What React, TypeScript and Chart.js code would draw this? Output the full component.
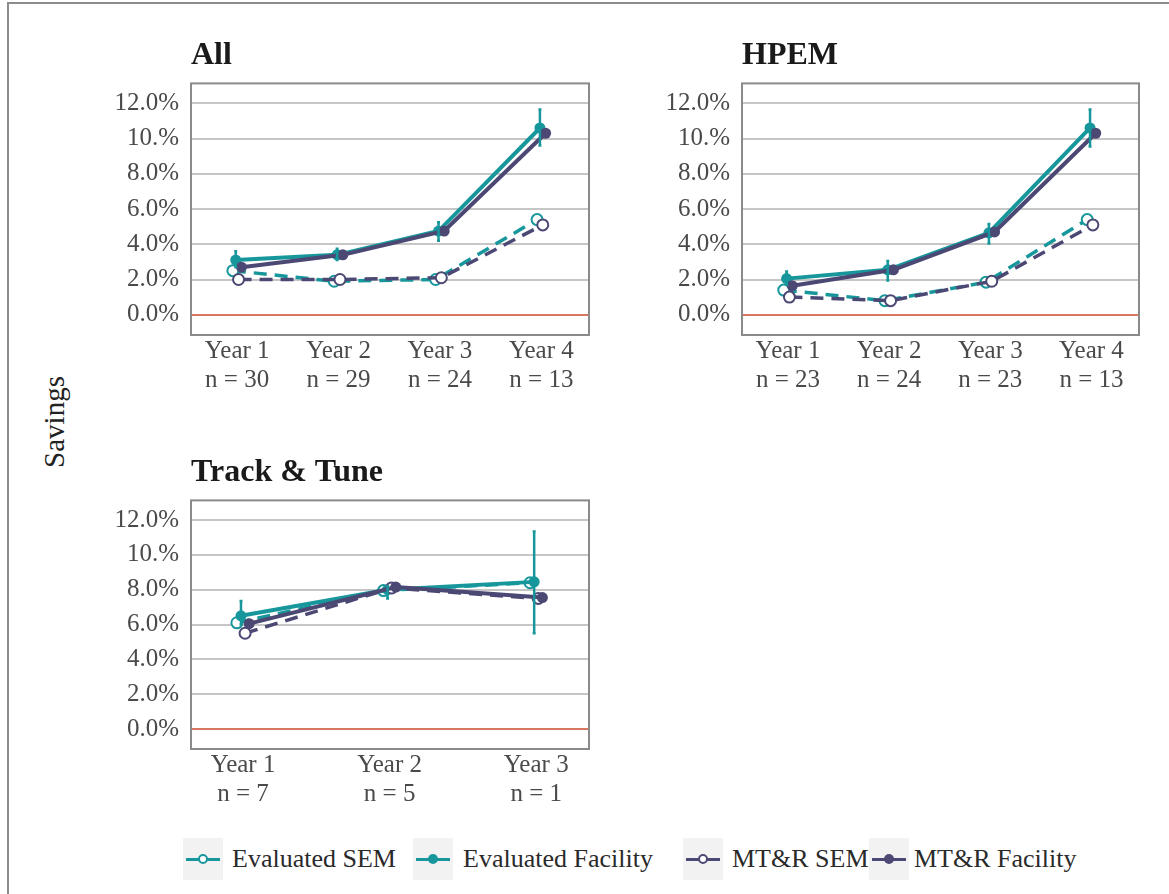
import React, { useEffect, useRef } from "react";
import { Chart, registerables } from "chart.js";

Chart.register(...registerables);

// ---------- data ----------
const yTickValues = [0, 2, 4, 6, 8, 10, 12];
const yTickLabels = ["0.0%", "2.0%", "4.0%", "6.0%", "8.0%", "10.%", "12.0%"];

const yearsFour = ["Year 1", "Year 2", "Year 3", "Year 4"];
const yearsThree = ["Year 1", "Year 2", "Year 3"];

// All
const allN = ["n = 30", "n = 29", "n = 24", "n = 13"];
const allEvalSEM = [2.5, 1.9, 2.0, 5.4];
const allEvalFacility = [3.1, 3.4, 4.75, 10.6];
const allMtrSEM = [2.0, 2.0, 2.1, 5.1];
const allMtrFacility = [2.7, 3.4, 4.75, 10.3];
const allEvalFacilityLow = [2.7, 3.1, 4.2, 9.6];
const allEvalFacilityHigh = [3.6, 3.75, 5.25, 11.65];

// HPEM
const hpemN = ["n = 23", "n = 24", "n = 23", "n = 13"];
const hpemEvalSEM = [1.4, 0.8, 1.85, 5.4];
const hpemEvalFacility = [2.05, 2.55, 4.65, 10.6];
const hpemMtrSEM = [1.0, 0.8, 1.9, 5.1];
const hpemMtrFacility = [1.65, 2.55, 4.7, 10.3];
const hpemEvalFacilityLow = [1.7, 1.95, 4.05, 9.55];
const hpemEvalFacilityHigh = [2.45, 3.05, 5.15, 11.65];

// Track & Tune
const ttN = ["n = 7", "n = 5", "n = 1"];
const ttEvalSEM = [6.1, 7.95, 8.4];
const ttEvalFacility = [6.5, 8.0, 8.45];
const ttMtrSEM = [5.5, 8.1, 7.5];
const ttMtrFacility = [6.05, 8.15, 7.55];
const ttEvalFacilityLow = [6.0, 7.5, 5.5];
const ttEvalFacilityHigh = [7.35, 8.2, 11.35];

const legendLabels = ["Evaluated SEM", "Evaluated Facility", "MT&R SEM", "MT&R Facility"];

// ---------- styles ----------
const TEAL = "#17979c";
const PURPLE = "#4b4874";
const ZERO = "#d8785f";
const GRID = "#c6c6c6";
const BOX = "#8a8a8a";
const TICK = "#4a4a4a";
const FONT = "'Liberation Serif', 'Times New Roman', serif";
const DODGE = [-0.042, -0.014, 0.014, 0.042];

type PanelSpec = {
  title: string;
  years: string[];
  ns: string[];
  evalSEM: number[];
  evalFac: number[];
  mtrSEM: number[];
  mtrFac: number[];
  low: number[];
  high: number[];
  xMin: number;
  xMax: number;
  left: number;
  top: number;
  width: number;
  height: number;
  yAxisW: number;
  xAxisH: number;
  padRight: number;
};

function Panel(p: PanelSpec) {
  const ref = useRef<HTMLCanvasElement>(null);
  useEffect(() => {
    if (!ref.current) return;
    const pts = (arr: number[], off: number) => arr.map((v, i) => ({ x: i + 1 + off, y: v }));

    const boxPlugin = {
      id: "boxBorder",
      beforeDatasetsDraw(chart: any) {
        const a = chart.chartArea;
        const ctx = chart.ctx;
        ctx.save();
        ctx.strokeStyle = BOX;
        ctx.lineWidth = 2;
        ctx.strokeRect(a.left, a.top, a.right - a.left, a.bottom - a.top);
        ctx.restore();
      },
    };

    const errPlugin = {
      id: "errorBars",
      afterDatasetsDraw(chart: any) {
        const ctx = chart.ctx;
        const xs = chart.scales.x;
        const ys = chart.scales.y;
        ctx.save();
        ctx.strokeStyle = TEAL;
        ctx.lineWidth = 2.5;
        p.low.forEach((lo, i) => {
          const px = xs.getPixelForValue(i + 1 + DODGE[1]);
          const y1 = ys.getPixelForValue(lo);
          const y2 = ys.getPixelForValue(p.high[i]);
          ctx.beginPath();
          ctx.moveTo(px, y1);
          ctx.lineTo(px, y2);
          ctx.moveTo(px - 1.5, y1);
          ctx.lineTo(px + 1.5, y1);
          ctx.moveTo(px - 1.5, y2);
          ctx.lineTo(px + 1.5, y2);
          ctx.stroke();
        });
        ctx.restore();
      },
    };

    const solid = (label: string, data: number[], off: number, color: string, order: number) => ({
      label,
      data: pts(data, off),
      borderColor: color,
      backgroundColor: color,
      borderWidth: 4,
      pointRadius: 5.5,
      pointBorderWidth: 0,
      pointBackgroundColor: color,
      tension: 0,
      order,
    });
    const dashed = (label: string, data: number[], off: number, color: string, order: number) => ({
      label,
      data: pts(data, off),
      borderColor: color,
      backgroundColor: "#ffffff",
      borderWidth: 3.5,
      borderDash: [13, 8],
      pointRadius: 5.5,
      pointBorderWidth: 2,
      pointBorderColor: color,
      pointBackgroundColor: "#ffffff",
      tension: 0,
      order,
    });

    const chart = new Chart(ref.current, {
      type: "line",
      data: {
        datasets: [
          solid(legendLabels[3], p.mtrFac, DODGE[3], PURPLE, 0),
          dashed(legendLabels[2], p.mtrSEM, DODGE[2], PURPLE, 1),
          solid(legendLabels[1], p.evalFac, DODGE[1], TEAL, 2),
          dashed(legendLabels[0], p.evalSEM, DODGE[0], TEAL, 3),
        ] as any,
      },
      options: {
        responsive: false,
        maintainAspectRatio: false,
        animation: false,
        events: [],
        layout: { padding: { left: 0, right: p.padRight, top: 0, bottom: 0 } },
        plugins: {
          legend: { display: false },
          tooltip: { enabled: false },
          title: {
            display: true,
            text: p.title,
            align: "start",
            fullSize: false,
            color: "#1a1a1a",
            font: { family: FONT, size: 32, weight: "bold", lineHeight: 1.2 },
            padding: { top: 0, bottom: 8 },
          },
        },
        scales: {
          x: {
            type: "linear",
            min: p.xMin,
            max: p.xMax,
            afterBuildTicks: (s: any) => {
              s.ticks = p.years.map((_, i) => ({ value: i + 1 }));
            },
            afterFit: (s: any) => {
              s.height = p.xAxisH;
            },
            ticks: {
              autoSkip: false,
              maxRotation: 0,
              minRotation: 0,
              padding: 2,
              color: TICK,
              font: { family: FONT, size: 25, lineHeight: 1.16 },
              callback: (v: any) => {
                const i = Math.round(Number(v)) - 1;
                return [p.years[i], p.ns[i]];
              },
            },
            grid: { display: false, drawTicks: false },
            border: { display: false },
          },
          y: {
            type: "linear",
            min: -1.15,
            max: 13.13,
            afterBuildTicks: (s: any) => {
              s.ticks = yTickValues.map((v) => ({ value: v }));
            },
            afterFit: (s: any) => {
              s.width = p.yAxisW;
            },
            ticks: {
              padding: 12,
              color: TICK,
              font: { family: FONT, size: 25 },
              callback: (_v: any, i: number) => yTickLabels[i],
            },
            grid: {
              drawTicks: false,
              lineWidth: 2,
              color: (c: any) => (c.tick && c.tick.value === 0 ? ZERO : GRID),
            },
            border: { display: false },
          },
        },
      } as any,
      plugins: [boxPlugin, errPlugin],
    });
    return () => chart.destroy();
  }, []);
  return (
    <canvas
      ref={ref}
      width={p.width}
      height={p.height}
      style={{ position: "absolute", left: p.left, top: p.top, width: p.width, height: p.height }}
    />
  );
}

function LegendKey({ x, color, open }: { x: number; color: string; open: boolean }) {
  return (
    <div style={{ position: "absolute", left: x, top: 838, width: 40, height: 42, background: "#f2f2f2" }}>
      <div style={{ position: "absolute", left: 3, top: 19.5, width: 34, height: 3, background: color }} />
      <div
        style={{
          position: "absolute",
          left: 15,
          top: 16,
          width: open ? 6 : 10,
          height: open ? 6 : 10,
          borderRadius: "50%",
          background: open ? "#ffffff" : color,
          border: open ? `2px solid ${color}` : "none",
        }}
      />
    </div>
  );
}

export default function App() {
  const base = { width: 505, yAxisW: 96, xAxisH: 65 };
  const legendKeys = [183, 413, 683, 869];
  const legendTextX = [232, 463, 732, 914];
  const legendColors = [TEAL, TEAL, PURPLE, PURPLE];
  const legendOpen = [true, false, true, false];
  return (
    <div
      style={{
        position: "absolute",
        left: 0,
        top: 0,
        width: 1169,
        height: 894,
        overflow: "hidden",
        background: "#ffffff",
        fontFamily: FONT,
      }}
    >
      <div
        style={{
          position: "absolute",
          left: 7,
          top: 2,
          width: 1300,
          height: 1000,
          borderLeft: "2px solid #8c8c8c",
          borderTop: "2px solid #8c8c8c",
        }}
      />
      <Panel
        {...base}
        title="All"
        years={yearsFour}
        ns={allN}
        evalSEM={allEvalSEM}
        evalFac={allEvalFacility}
        mtrSEM={allMtrSEM}
        mtrFac={allMtrFacility}
        low={allEvalFacilityLow}
        high={allEvalFacilityHigh}
        xMin={0.545}
        xMax={4.47}
        left={95}
        top={37}
        height={363}
        padRight={11}
      />
      <Panel
        {...base}
        title="HPEM"
        years={yearsFour}
        ns={hpemN}
        evalSEM={hpemEvalSEM}
        evalFac={hpemEvalFacility}
        mtrSEM={hpemMtrSEM}
        mtrFac={hpemMtrFacility}
        low={hpemEvalFacilityLow}
        high={hpemEvalFacilityHigh}
        xMin={0.545}
        xMax={4.47}
        left={646}
        top={37}
        height={363}
        padRight={12}
      />
      <Panel
        {...base}
        title="Track & Tune"
        years={yearsThree}
        ns={ttN}
        evalSEM={ttEvalSEM}
        evalFac={ttEvalFacility}
        mtrSEM={ttMtrSEM}
        mtrFac={ttMtrFacility}
        low={ttEvalFacilityLow}
        high={ttEvalFacilityHigh}
        xMin={0.645}
        xMax={3.36}
        left={95}
        top={454}
        height={360}
        padRight={11}
      />
      <div
        style={{
          position: "absolute",
          left: -46,
          top: 402,
          width: 200,
          height: 40,
          lineHeight: "40px",
          textAlign: "center",
          fontSize: 29,
          color: "#222",
          transform: "rotate(-90deg)",
        }}
      >
        Savings
      </div>
      {legendLabels.map((lab, i) => (
        <React.Fragment key={lab}>
          <LegendKey x={legendKeys[i]} color={legendColors[i]} open={legendOpen[i]} />
          <div
            style={{
              position: "absolute",
              left: legendTextX[i],
              top: 838,
              height: 42,
              lineHeight: "42px",
              fontSize: 26,
              color: "#2a2a2a",
              whiteSpace: "nowrap",
            }}
          >
            {lab}
          </div>
        </React.Fragment>
      ))}
    </div>
  );
}
